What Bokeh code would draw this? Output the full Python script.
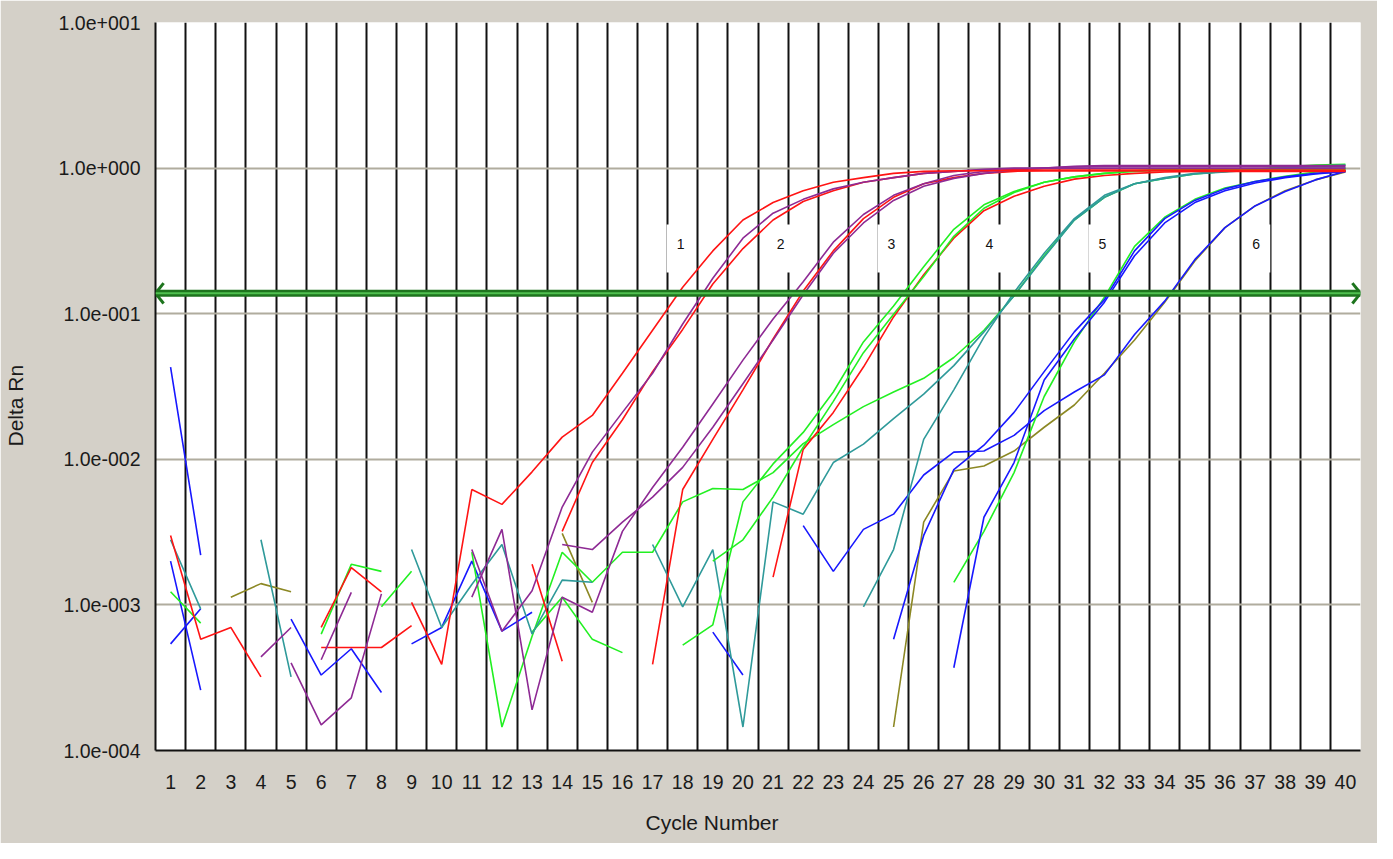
import math
from bokeh.plotting import figure
from bokeh.models import FixedTicker, Range1d, Span, Title, LinearAxis
from bokeh.embed import file_html
from bokeh.resources import INLINE
from bokeh.core.properties import value

nan = float("nan")
cycles = list(range(1, 41))

# ---- series values (Delta Rn per cycle 1..40, nan = not drawn) ----
R1 = [0.0030, 0.00058, 0.00070, 0.00032, nan, nan, nan, nan, 0.00104, 0.00039,
      0.0062, 0.0049, 0.0082, 0.0142, 0.020, 0.039, 0.077, 0.152, 0.27, 0.44,
      0.58, 0.70, 0.80, 0.86, 0.92, 0.95, 0.96, 0.96, 0.96, 0.96,
      0.96, 0.96, 0.96, 0.96, 0.96, 0.96, 0.96, 0.96, 0.96, 0.96]
P1 = [nan, nan, nan, 0.00044, 0.00070, nan, nan, nan, nan, nan,
      0.0024, 0.00066, 0.00125, 0.0047, 0.0112, 0.021, 0.039, 0.085, 0.175, 0.33,
      0.49, 0.61, 0.72, 0.80, 0.86, 0.92, 0.95, 0.98, 1.0, 1.0,
      1.0, 1.0, 1.0, 1.0, 1.0, 1.0, 1.0, 1.0, 1.0, 1.0]
R2 = [nan, nan, nan, nan, nan, 0.00070, 0.0018, 0.00123, nan, nan,
      nan, nan, nan, 0.0032, 0.0095, 0.0187, 0.040, 0.078, 0.16, 0.28,
      0.44, 0.59, 0.70, 0.80, 0.86, 0.92, 0.95, 0.97, 0.97, 0.97,
      0.97, 0.97, 0.97, 0.97, 0.97, 0.97, 0.97, 0.97, 0.97, 0.97]
P2 = [nan, nan, nan, nan, 0.00040, 0.000150, 0.00023, 0.00119, nan, nan,
      0.00113, 0.0033, 0.000190, 0.00113, 0.00089, 0.0032, 0.0064, 0.0121, 0.024, 0.048,
      0.092, 0.166, 0.31, 0.48, 0.65, 0.78, 0.89, 0.95, 0.98, 1.0,
      1.02, 1.03, 1.03, 1.03, 1.03, 1.03, 1.03, 1.03, 1.03, 1.03]
P3 = [nan, nan, nan, nan, nan, 0.00042, 0.00122, nan, nan, nan,
      nan, nan, nan, 0.0026, 0.0024, 0.0037, 0.0055, 0.0088, 0.0166, 0.033,
      0.066, 0.135, 0.26, 0.42, 0.60, 0.75, 0.85, 0.92, 0.97, 1.0,
      1.03, 1.04, 1.04, 1.04, 1.04, 1.04, 1.04, 1.04, 1.04, 1.04]
R3 = [nan, nan, nan, nan, nan, 0.00051, 0.00051, 0.00051, 0.00072, nan,
      nan, nan, nan, nan, nan, nan, 0.00039, 0.0062, 0.0137, 0.030,
      0.067, 0.143, 0.27, 0.45, 0.63, 0.78, 0.86, 0.92, 0.95, 0.96,
      0.96, 0.96, 0.96, 0.96, 0.96, 0.96, 0.96, 0.96, 0.96, 0.96]
G1 = [nan, nan, nan, nan, nan, 0.00063, 0.0019, 0.0017, nan, nan,
      nan, nan, nan, nan, nan, nan, nan, 0.00053, 0.00073, 0.0051,
      0.0093, 0.0153, 0.029, 0.064, 0.113, 0.21, 0.38, 0.56, 0.69, 0.80,
      0.87, 0.92, 0.95, 0.97, 0.97, 0.97, 0.97, 0.97, 0.97, 0.97]
G2 = [nan, nan, nan, nan, nan, nan, nan, 0.00097, 0.0017, nan,
      nan, nan, nan, nan, nan, nan, nan, nan, 0.0020, 0.0028,
      0.0055, 0.0121, 0.025, 0.054, 0.099, 0.18, 0.34, 0.53, 0.68, 0.80,
      0.87, 0.92, 0.96, 0.98, 0.98, 0.98, 0.98, 0.98, 0.98, 0.98]
R5 = [nan, nan, nan, nan, nan, nan, nan, nan, nan, nan,
      nan, nan, 0.0019, 0.00041, nan, nan, nan, nan, nan, nan,
      0.00155, 0.0117, 0.021, 0.043, 0.095, 0.185, 0.33, 0.51, 0.64, 0.75,
      0.84, 0.89, 0.92, 0.94, 0.95, 0.95, 0.95, 0.95, 0.95, 0.95]
T1 = [0.0028, 0.00094, nan, nan, nan, nan, nan, nan, 0.0024, 0.00070,
      0.00138, 0.0026, 0.00063, 0.00148, 0.00143, nan, nan, nan, nan, nan,
      nan, nan, nan, 0.00097, 0.0024, 0.0137, 0.030, 0.069, 0.14, 0.26,
      0.45, 0.65, 0.78, 0.86, 0.92, 0.95, 0.97, 1.0, 1.0, 1.0]
T2 = [nan, nan, nan, 0.0028, 0.00032, nan, nan, nan, nan, nan,
      nan, nan, nan, nan, nan, nan, 0.0026, 0.00097, 0.0024, 0.000145,
      0.0051, 0.0042, 0.0095, 0.0127, 0.019, 0.028, 0.044, 0.075, 0.133, 0.245,
      0.44, 0.63, 0.78, 0.85, 0.91, 0.94, 0.97, 1.0, 1.03, 1.05]
G3 = [0.00123, 0.00075, nan, nan, nan, nan, nan, nan, nan, nan,
      0.0023, 0.000145, 0.00061, 0.0023, 0.00143, 0.0023, 0.0023, 0.0051, 0.0063, 0.0062,
      0.0081, 0.0128, 0.0173, 0.023, 0.029, 0.036, 0.050, 0.077, 0.133, 0.25,
      0.44, 0.63, 0.78, 0.85, 0.91, 0.95, 0.98, 1.02, 1.05, 1.06]
B1 = [0.043, 0.0022, nan, nan, 0.00080, 0.00033, 0.00050, 0.00025, nan, nan,
      nan, nan, nan, nan, nan, nan, nan, nan, nan, nan,
      nan, nan, nan, nan, 0.00058, 0.0030, 0.0085, 0.0125, 0.021, 0.040,
      0.075, 0.125, 0.27, 0.45, 0.60, 0.72, 0.81, 0.87, 0.92, 0.95]
B2 = [0.0020, 0.00026, nan, nan, nan, nan, nan, nan, 0.00054, 0.00070,
      0.0020, 0.00066, 0.00089, nan, nan, nan, nan, nan, nan, nan,
      nan, nan, nan, nan, nan, nan, 0.00037, 0.0040, 0.0095, 0.035,
      0.067, 0.12, 0.25, 0.42, 0.58, 0.70, 0.79, 0.86, 0.91, 0.95]
G4 = [nan, nan, nan, nan, nan, nan, nan, nan, nan, nan,
      nan, nan, 0.00065, 0.00113, 0.00058, 0.00047, nan, nan, nan, nan,
      nan, nan, nan, nan, nan, nan, 0.00143, 0.0032, 0.0081, 0.027,
      0.064, 0.13, 0.29, 0.46, 0.61, 0.73, 0.81, 0.88, 0.94, 1.0]
B3 = [0.00054, 0.00094, nan, nan, nan, nan, nan, nan, nan, nan,
      nan, nan, nan, nan, nan, nan, nan, nan, 0.00065, 0.00033,
      nan, 0.0035, 0.0017, 0.0033, 0.0042, 0.0078, 0.0112, 0.0114, 0.0146, 0.0216,
      0.029, 0.038, 0.072, 0.122, 0.235, 0.39, 0.55, 0.69, 0.83, 0.95]
O1 = [nan, nan, 0.00113, 0.00140, 0.00123, nan, nan, nan, nan, nan,
      nan, nan, nan, 0.0031, 0.00104, nan, nan, nan, nan, nan,
      nan, nan, nan, nan, 0.000145, 0.0037, 0.0083, 0.0090, 0.0114, 0.0166,
      0.0236, 0.039, 0.066, 0.12, 0.23, 0.39, 0.55, 0.70, 0.83, 0.94]

RED, PURPLE, GREEN, TEAL, BLUE, OLIVE = "#ff1414", "#8e2a94", "#22f022", "#2f9a9a", "#1818ff", "#8c8824"
series = [
    (O1, OLIVE), (B3, BLUE), (G4, GREEN), (B2, BLUE), (B1, BLUE),
    (G3, GREEN), (T2, TEAL), (T1, TEAL), (R5, RED), (G2, GREEN), (G1, GREEN),
    (R3, RED), (P3, PURPLE), (P2, PURPLE), (R2, RED), (P1, PURPLE), (R1, RED),
]

threshold = 0.138
group_labels = ["1", "2", "3", "4", "5", "6"]
group_label_x = [17.93, 21.25, 24.93, 28.18, 31.93, 37.04]
group_label_y = [0.30, 0.30, 0.30, 0.30, 0.30, 0.30]
label_box_y = [0.28, 0.28, 0.28, 0.28, 0.28, 0.28]

y_ticks = [1e-4, 1e-3, 1e-2, 1e-1, 1e0, 1e1]
y_tick_text = ["1.0e-004", "1.0e-003", "1.0e-002", "1.0e-001", "1.0e+000", "1.0e+001"]

BG = "#d4d0c8"
FONT = "Liberation Sans"
TXT = "#1a1a1a"

p = figure(width=1377, height=843, x_range=Range1d(0.5, 40.5), y_range=Range1d(1e-4, 10),
           y_axis_type="log", output_backend="svg", toolbar_location=None,
           min_border_left=155, min_border_right=17, min_border_top=22, min_border_bottom=93)
p.border_fill_color = BG
p.background_fill_color = "white"
p.outline_line_color = None

# grids
p.xgrid.ticker = FixedTicker(ticks=[c + 0.5 for c in range(0, 41)])
p.xgrid.grid_line_color = "#111111"
p.xgrid.grid_line_width = 2
p.ygrid.ticker = FixedTicker(ticks=y_ticks)
p.ygrid.grid_line_color = "#b0ac9e"
p.ygrid.grid_line_width = 2

# axes
p.xaxis.ticker = FixedTicker(ticks=cycles)
p.yaxis.ticker = FixedTicker(ticks=y_ticks)
p.yaxis.major_label_overrides = {t: s for t, s in zip(y_ticks, y_tick_text)}
for ax in (p.xaxis, p.yaxis):
    ax.major_tick_line_color = None
    ax.minor_tick_line_color = None
    ax.major_tick_out = 0
    ax.major_tick_in = 0
    ax.axis_line_color = "#111111"
    ax.axis_line_width = 2
    ax.major_label_text_font = FONT
    ax.major_label_text_font_size = "19.5px"
    ax.major_label_text_color = TXT
p.xaxis.major_label_standoff = 24
p.yaxis.major_label_standoff = 15

# spacer axes (background-coloured tick, no label) so the axis titles sit where they belong
spacer_left = LinearAxis(ticker=FixedTicker(ticks=[10]), major_tick_out=28, major_tick_in=0,
                         major_label_standoff=0, axis_line_color=None,
                         major_tick_line_color=BG, minor_tick_line_color=None,
                         major_label_overrides={10: ""}, major_label_text_alpha=0)
p.add_layout(spacer_left, "left")
p.add_layout(Title(text="Delta Rn", align="left", offset=304, vertical_align="middle",
                   standoff=0, text_font=FONT, text_font_size="21px",
                   text_font_style="normal", text_color=TXT), "left")

spacer_below = LinearAxis(ticker=FixedTicker(ticks=[40.5]), major_tick_out=18, major_tick_in=0,
                          major_label_standoff=0, axis_line_color=None,
                          major_tick_line_color=BG, minor_tick_line_color=None,
                          major_label_overrides={40.5: ""}, major_label_text_alpha=0)
p.add_layout(spacer_below, "below")
p.add_layout(Title(text="Cycle Number", align="left", offset=490, vertical_align="middle",
                   standoff=0, text_font=FONT, text_font_size="21px",
                   text_font_style="normal", text_color=TXT), "below")

# white boxes behind group labels
p.rect(x=group_label_x, y=label_box_y, width=28, height=48, width_units="screen",
       height_units="screen", fill_color="white", line_color=None)

# threshold line with arrow heads
p.add_layout(Span(location=threshold, dimension="width", line_color="#1d741d", line_width=7))
p.add_layout(Span(location=threshold, dimension="width", line_color="#4fc04f", line_width=2))
arm = math.atan2(10, 8)
p.ray(x=[40.5, 40.5], y=[threshold, threshold], length=13, length_units="screen",
      angle=[math.pi - arm, math.pi + arm], line_color="#1d741d", line_width=3)
p.ray(x=[0.5, 0.5], y=[threshold, threshold], length=13, length_units="screen",
      angle=[arm, -arm], line_color="#1d741d", line_width=3)

# curves
for vals, col in series:
    p.line(cycles, vals, line_color=col, line_width=1.6)

# group labels
p.text(x=group_label_x, y=group_label_y, text=group_labels, text_align="center",
       text_baseline="middle", text_font=value(FONT), text_font_size="14px",
       text_color="#111111")

open("out.html", "w").write(file_html(p, INLINE))
